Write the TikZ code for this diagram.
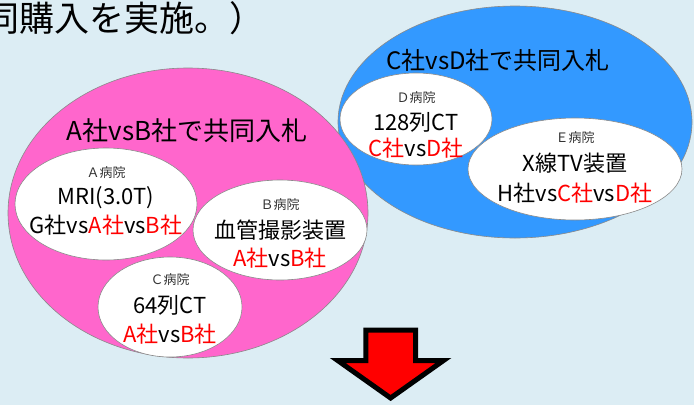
\documentclass[tikz,border=0pt]{standalone}
\usepackage{fontspec}
\setmainfont{Noto Sans CJK JP}
\usetikzlibrary{shapes.geometric}
\definecolor{bgc}{HTML}{DCEDF4}
\definecolor{pinkc}{HTML}{FF66CC}
\definecolor{bluec}{HTML}{3399FF}
\definecolor{redc}{HTML}{FF0000}
\definecolor{edgec}{HTML}{8A8A8A}
\newcommand{\rd}[1]{\textcolor{redc}{#1}}
\begin{document}
\begin{tikzpicture}[x=1pt,y=-1pt,
  group/.style={ellipse,draw=edgec,line width=0.6pt,inner sep=0pt},
  hosp/.style={ellipse,draw=edgec,fill=white,line width=0.6pt,inner sep=0pt},
  small/.style={font=\fontsize{13}{13}\selectfont,text=black!80},
  big/.style={font=\fontsize{22}{22}\selectfont},
  ttl/.style={font=\fontsize{24}{24}\selectfont}]
\useasboundingbox (0,0) rectangle (694,405);
\fill[bgc] (0,0) rectangle (694,405);
\node[anchor=west,inner sep=0pt,font=\fontsize{35}{35}\selectfont] (top) at (-16,18) {同購入を実施。）};
% groups
\node[group,fill=bluec,minimum width=354pt,minimum height=232pt] (gcd) at (515,122) {};
\node[group,fill=pinkc,minimum width=360pt,minimum height=290pt] (gab) at (188,213) {};
\node[ttl,font=\fontsize{26}{26}\selectfont] (tab) at (187,131) {A社vsB社で共同入札};
\node[ttl] (tcd) at (498,60) {C社vsD社で共同入札};
% hospitals
\node[hosp,minimum width=182pt,minimum height=112pt] (ha) at (106,204) {};
\node[small] (la) at (106,173) {Ａ病院};
\node[big] (ma) at (106,198) {MRI(3.0T)};
\node[big] (va) at (106,225) {G社vs\rd{A社}vs\rd{B社}};
\node[hosp,minimum width=174pt,minimum height=100pt] (hb) at (280,230) {};
\node[small] (lb) at (280,205) {Ｂ病院};
\node[big] (mb) at (280,230) {血管撮影装置};
\node[big] (vb) at (280,258) {\rd{A社}vs\rd{B社}};
\node[hosp,minimum width=144pt,minimum height=100pt] (hc) at (170,307) {};
\node[small] (lc) at (170,280) {Ｃ病院};
\node[big] (mc) at (170,305) {64列CT};
\node[big] (vc) at (170,334) {\rd{A社}vs\rd{B社}};
\node[hosp,minimum width=152pt,minimum height=92pt] (hd) at (416,119) {};
\node[small] (ld) at (416,98) {Ｄ病院};
\node[big] (md) at (416,122) {128列CT};
\node[big] (vd) at (416,148) {\rd{C社}vs\rd{D社}};
\node[hosp,minimum width=214pt,minimum height=102pt] (he) at (575,169) {};
\node[small] (le) at (575,138) {Ｅ病院};
\node[big] (me) at (575,163) {X線TV装置};
\node[big] (ve) at (575,193) {H社vs\rd{C社}vs\rd{D社}};
% arrow
\draw[line width=5pt,fill=redc,draw=black,line join=miter]
  (365.8,330) -- (415.5,330) -- (415.5,360.5) -- (443.5,360.5) -- (390.6,398) -- (337.7,360.5) -- (365.8,360.5) -- cycle;
\end{tikzpicture}
\end{document}
